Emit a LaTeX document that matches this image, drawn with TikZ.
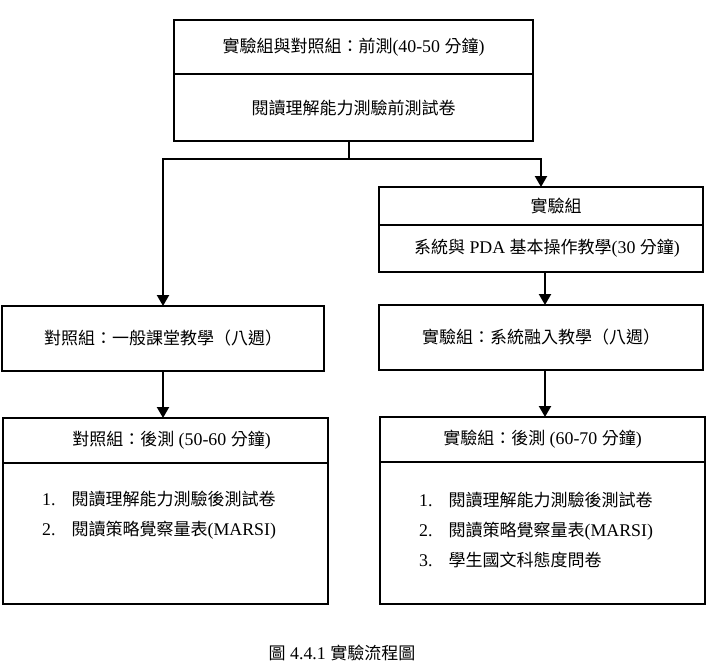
\documentclass[tikz,border=0pt]{standalone}
\usepackage{fontspec}
\setmainfont{Liberation Serif}[Scale=1.05]
\newfontfamily\cjk{Noto Sans CJK TC}
\usetikzlibrary{arrows.meta}
\newcommand{\zh}[1]{{\cjk #1}}

\begin{document}
\begin{tikzpicture}[x=1pt, y=-1pt,
        box/.style={draw, line width=2.2pt, inner sep=0pt, outer sep=0pt, font=\fontsize{17}{20}\selectfont},
        txt/.style={inner sep=0pt, align=left, anchor=west, font=\fontsize{17}{30}\selectfont},
        flow/.style={line width=2.2pt, -{Triangle[width=12pt, length=11pt]}}]
    \useasboundingbox (0,0) rectangle (709,662);

    % Pretest (both groups)
    \node[box, minimum width=359pt, minimum height=54pt] (pretitle) at (353.5,47) {\zh{實驗組與對照組：前測}(40-50 \zh{分鐘})};
    \node[box, minimum width=359pt, minimum height=67pt] (pretest) at (353.5,107.5) {\zh{閱讀理解能力測驗前測試卷}};
    \coordinate (split) at (349,159);

    % Experimental group
    \node[box, minimum width=324pt, minimum height=38pt] (exptitle) at (541,206) {\hspace{30pt}\zh{實驗組}};
    \node[box, minimum width=324pt, minimum height=47pt] (exptrain) at (541,248.5) {\hspace{12pt}\zh{系統與} PDA \zh{基本操作教學}(30 \zh{分鐘})};
    \node[box, minimum width=324pt, minimum height=65pt] (expteach) at (541,337.5) {\zh{實驗組：系統融入教學（八週）}};
    \node[box, minimum width=325pt, minimum height=45pt] (postexptitle) at (542.5,439.5) {\zh{實驗組：後測} (60-70 \zh{分鐘})};
    \node[box, minimum width=325pt, minimum height=142pt] (postexp) at (542.5,533) {};
    \node[txt] (explist) at (419,529.5) {1.\hspace{16pt}\zh{閱讀理解能力測驗後測試卷}\\
        2.\hspace{16pt}\zh{閱讀策略覺察量表}(MARSI)\\
        3.\hspace{16pt}\zh{學生國文科態度問卷}};

    % Control group
    \node[box, minimum width=322pt, minimum height=65pt] (ctrlteach) at (163,338.5) {\zh{對照組：一般課堂教學（八週）}};
    \node[box, minimum width=325pt, minimum height=45pt] (postctrltitle) at (165.5,440.5) {\hspace{12pt}\zh{對照組：後測} (50-60 \zh{分鐘})};
    \node[box, minimum width=325pt, minimum height=141pt] (postctrl) at (165.5,533.5) {};
    \node[txt] (ctrllist) at (42,515) {1.\hspace{16pt}\zh{閱讀理解能力測驗後測試卷}\\
        2.\hspace{16pt}\zh{閱讀策略覺察量表}(MARSI)};

    % Connectors
    \draw[line width=2.2pt] (pretest.south -| split) -- (split);
    \draw[flow] (split) -| (exptitle.north);
    \draw[flow] (split) -| (ctrlteach.north);
    \draw[flow] ([xshift=4pt]exptrain.south) -- ([xshift=4pt]exptrain.south |- expteach.north);
    \draw[flow] ([xshift=4pt]expteach.south) -- ([xshift=4pt]expteach.south |- postexptitle.north);
    \draw[flow] (ctrlteach.south) -- (ctrlteach.south |- postctrltitle.north);

    % Caption
    \node[font=\fontsize{17}{20}\selectfont] (caption) at (342,653) {\zh{圖} 4.4.1 \zh{實驗流程圖}};
\end{tikzpicture}
\end{document}
